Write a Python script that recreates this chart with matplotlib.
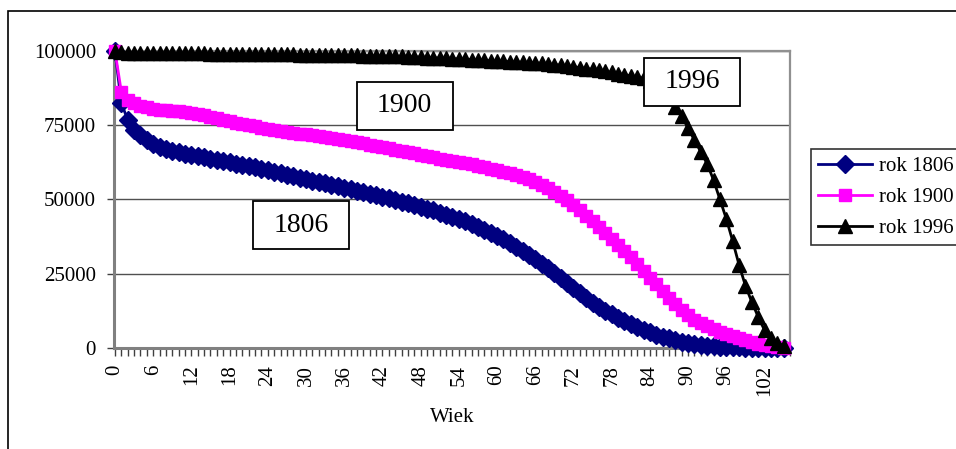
import numpy as np
import matplotlib
matplotlib.use('Agg')
import matplotlib.pyplot as plt
from matplotlib.patches import Rectangle
from matplotlib.ticker import MultipleLocator, FixedLocator

## survival curves (out of 100000 born), ages 0..105
ages = list(range(0, 106))

rok_1806 = [100000, 82500, 76800, 73500, 71600, 70000, 68700, 67800, 67000, 66400,
            65900, 65400, 65000, 64600, 64200, 63800, 63400, 63000, 62600, 62100,
            61600, 61200, 60800, 60300, 59900, 59400, 58900, 58400, 57900, 57300,
            56800, 56300, 55900, 55400, 54900, 54400, 54000, 53500, 53000, 52500,
            52000, 51500, 51000, 50400, 49900, 49300, 48700, 48100, 47500, 46900,
            46300, 45600, 44900, 44200, 43400, 42600, 41700, 40800, 39800, 38800,
            37700, 36600, 35400, 34100, 32700, 31300, 29800, 28300, 26800, 25200,
            23600, 22000, 20300, 18600, 16900, 15300, 13900, 12600, 11400, 10200,
            9100, 8100, 7100, 6200, 5300, 4500, 3800, 3200, 2600, 2100,
            1700, 1300, 1000, 800, 600, 450, 330, 240, 170, 120,
            80, 50, 30, 20, 10, 0]

rok_1900 = [100000, 86300, 83600, 82400, 81600, 81000, 80600, 80300, 80100, 79900,
            79700, 79400, 79100, 78700, 78300, 77900, 77400, 76900, 76400, 75900,
            75400, 75000, 74600, 74200, 73800, 73400, 73100, 72800, 72500, 72200,
            72000, 71700, 71400, 71000, 70700, 70300, 70000, 69600, 69300, 68900,
            68500, 68100, 67700, 67300, 66800, 66400, 66000, 65600, 65100, 64700,
            64200, 63800, 63400, 63000, 62600, 62200, 61800, 61400, 61000, 60400,
            59800, 59300, 58800, 58200, 57600, 56800, 55900, 54900, 53800, 52600,
            51200, 49700, 48100, 46400, 44400, 42600, 40700, 38700, 36600, 34600,
            32600, 30500, 28300, 26000, 23700, 21400, 19100, 16900, 14800, 12800,
            11000, 9500, 8500, 7400, 6300, 5400, 4600, 3900, 3300, 2700,
            2100, 1500, 1000, 600, 300, 100]

rok_1996 = [100000, 99500, 99450, 99400, 99400, 99350, 99350, 99300, 99300, 99300,
            99250, 99250, 99200, 99200, 99200, 99150, 99150, 99100, 99100, 99050,
            99050, 99000, 99000, 98950, 98950, 98900, 98900, 98850, 98850, 98800,
            98800, 98750, 98750, 98700, 98700, 98650, 98600, 98550, 98500, 98450,
            98400, 98350, 98300, 98250, 98200, 98150, 98100, 98000, 97900, 97800,
            97700, 97600, 97500, 97400, 97300, 97200, 97100, 97000, 96850, 96700,
            96600, 96500, 96400, 96300, 96200, 96100, 96000, 95800, 95600, 95400,
            95200, 95000, 94700, 94400, 94100, 93800, 93500, 93200, 92800, 92400,
            92000, 91600, 91200, 90800, 90000, 88800, 87000, 84500, 81000, 78000,
            74000, 70000, 66000, 62000, 56500, 50000, 43500, 36000, 28000, 21000,
            15500, 10500, 6000, 3200, 1600, 800]

series_labels = ['rok 1806', 'rok 1900', 'rok 1996']
box_texts = ['1900', '1996', '1806']

plt.rcParams['font.family'] = ['Liberation Serif', 'DejaVu Serif']

W, H = 956, 449
fig = plt.figure(figsize=(W / 100, H / 100), dpi=100)
fig.patch.set_facecolor('white')

## outer chart frame (right and bottom edges fall outside the picture)
fig.patches.append(Rectangle((8 / W, -1), 2, 1 - 11 / H + 1, transform=fig.transFigure,
                             fill=False, edgecolor='black', lw=1.2, clip_on=False))

ax = fig.add_axes([114 / W, 1 - 348 / H, 676 / W, 297 / H])

ax.plot(ages, rok_1806, color='#000080', lw=2, marker='D', ms=9,
        mec='#000080', mfc='#000080', label=series_labels[0], clip_on=False, zorder=3)
ax.plot(ages, rok_1900, color='#FF00FF', lw=2, marker='s', ms=9,
        mec='#FF00FF', mfc='#FF00FF', label=series_labels[1], clip_on=False, zorder=4)
ax.plot(ages, rok_1996, color='black', lw=2, marker='^', ms=10,
        mec='black', mfc='black', label=series_labels[2], clip_on=False, zorder=5)

ax.set_xlim(-0.15, 106)
ax.set_ylim(0, 100000)
ax.yaxis.set_major_locator(MultipleLocator(25000))
ax.xaxis.set_major_locator(FixedLocator(list(range(0, 103, 6))))
ax.xaxis.set_minor_locator(FixedLocator(list(range(0, 107))))
ax.set_xticklabels([str(a) for a in range(0, 103, 6)], rotation=90)

ax.grid(axis='y', color='#505050', lw=1)
ax.set_axisbelow(True)
for s in ['left', 'bottom']:
    ax.spines[s].set_color('#808080')
    ax.spines[s].set_linewidth(2.2)
for s in ['top', 'right']:
    ax.spines[s].set_color('#909090')
    ax.spines[s].set_linewidth(1.6)

ax.tick_params(axis='y', length=5, width=1, color='#404040', pad=8, labelsize=15)
ax.tick_params(axis='x', which='both', length=6, width=1, color='#404040',
               pad=6, labelsize=15)

ax.set_xlabel('Wiek', fontsize=15, va='center')
ax.xaxis.set_label_coords(0.5, -(418 - 348) / 297)

## year labels in boxes
box_pos = [(45.5, 81500), (90.6, 89600), (29.2, 41400)]
bw, bh = 96 / W, 48 / H
fig.canvas.draw()
for txt, (bx, by) in zip(box_texts, box_pos):
    fx, fy = fig.transFigure.inverted().transform(ax.transData.transform((bx, by)))
    fig.patches.append(Rectangle((fx - bw / 2, fy - bh / 2), bw, bh, transform=fig.transFigure,
                                 facecolor='white', edgecolor='black', lw=1.3, zorder=10))
    fig.text(fx, fy, txt, fontsize=20, ha='center', va='center', zorder=11)

leg = ax.legend(loc='upper left', bbox_to_anchor=(811 / W, 1 - 149 / H),
                bbox_transform=fig.transFigure, fontsize=15, frameon=True,
                fancybox=False, edgecolor='black', handlelength=2.6,
                handletextpad=0.3, labelspacing=0.55, borderpad=0.35,
                borderaxespad=0)
leg.get_frame().set_linewidth(1.2)

plt.savefig('out.png', dpi=100)
